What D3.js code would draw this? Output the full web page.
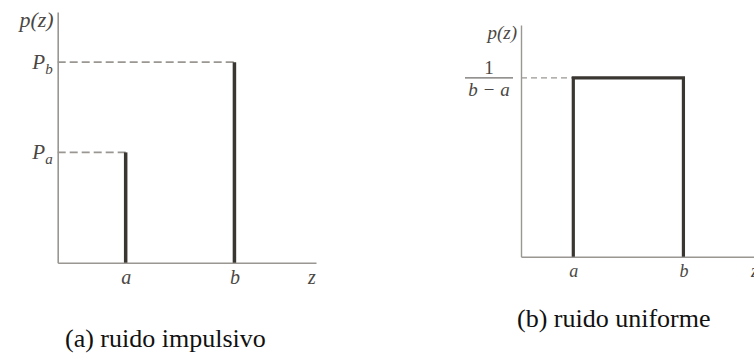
<!DOCTYPE html>
<html>
<head>
<meta charset="utf-8">
<script src="https://cdn.jsdelivr.net/npm/d3@7"></script>
<style>
  html, body { margin: 0; padding: 0; background: #fff; }
  svg { display: block; }
</style>
</head>
<body>
<svg id="chart" width="754" height="356"></svg>
<script>
// Impulse (salt-and-pepper) noise: two spikes at z = a and z = b
const impulseLabels = ["a", "b"];
const impulseZ = [2.5, 6.5];
const impulseP = [0.55, 1.0];
const impulseTickLabels = [["P", "a"], ["P", "b"]];

// Uniform noise: constant density 1/(b - a) between a and b
const uniformLabels = ["a", "b"];
const uniformZ = [1.9, 5.9];
const uniformHeight = [1 / (uniformZ[1] - uniformZ[0])];

const captions = ["(a) ruido impulsivo", "(b) ruido uniforme"];

const SERIF = "'Liberation Serif'";

const svg = d3.select("#chart");
const axisColor = "#9a9692";
const markColor = "#3a3632";
const labelColor = "#4a4744";

function math(sel, size) {
  return sel.attr("font-family", null).style("font-family", SERIF).style("font-style", "italic")
    .style("font-size", size + "px").attr("fill", labelColor);
}

// ---------- Panel (a): impulse ----------
const xA = d3.scaleLinear().domain([0, 9.5]).range([57.7, 316]);
const yA = d3.scaleLinear().domain([0, 1.25]).range([262.7, 12]);

const gA = svg.append("g");

const axBA = gA.append("g")
  .attr("transform", `translate(0,${yA(0)})`)
  .call(d3.axisBottom(xA).tickValues(impulseZ).tickSize(0).tickSizeOuter(0)
    .tickFormat((d, i) => impulseLabels[i]));
axBA.attr("font-family", null);
axBA.select(".domain").attr("stroke", axisColor).attr("stroke-width", 1.6);
math(axBA.selectAll(".tick text"), 20).attr("dy", 0).attr("y", 21);
math(axBA.append("text"), 20).attr("x", xA(9.35)).attr("y", 21)
  .attr("text-anchor", "middle").text("z");

const axLA = gA.append("g")
  .attr("transform", `translate(${xA(0)},0)`)
  .call(d3.axisLeft(yA).tickValues(impulseP).tickSize(0).tickSizeOuter(0).tickFormat(""));
axLA.attr("font-family", null);
axLA.select(".domain").attr("stroke", axisColor).attr("stroke-width", 1.6);
axLA.selectAll(".tick").each(function (d, i) {
  const t = math(d3.select(this).select("text"), 21)
    .attr("x", -5).attr("dy", "0.3em").attr("text-anchor", "end");
  t.append("tspan").text(impulseTickLabels[i][0]);
  t.append("tspan").style("font-size", "15px").attr("dy", "0.35em").text(impulseTickLabels[i][1]);
});
math(gA.append("text"), 22)
  .attr("x", xA(0) - 4).attr("y", yA(1.25) + 15).attr("text-anchor", "end").text("p(z)");

// dashed guides from the axis to each spike top
gA.selectAll("line.guide").data(impulseZ).join("line")
  .attr("class", "guide")
  .attr("x1", xA(0)).attr("x2", d => xA(d))
  .attr("y1", (d, i) => yA(impulseP[i])).attr("y2", (d, i) => yA(impulseP[i]))
  .attr("stroke", axisColor).attr("stroke-width", 1.6).attr("stroke-dasharray", "8,4");

// the spikes
gA.selectAll("line.spike").data(impulseZ).join("line")
  .attr("class", "spike")
  .attr("x1", d => xA(d)).attr("x2", d => xA(d))
  .attr("y1", yA(0)).attr("y2", (d, i) => yA(impulseP[i]))
  .attr("stroke", markColor).attr("stroke-width", 3.5);

// ---------- Panel (b): uniform ----------
const xB = d3.scaleLinear().domain([0, 8.5]).range([521, 755]);
const yB = d3.scaleLinear().domain([0, 0.324]).range([256.7, 25]);

const gB = svg.append("g");

const axBB = gB.append("g")
  .attr("transform", `translate(0,${yB(0)})`)
  .call(d3.axisBottom(xB).tickValues(uniformZ).tickSize(0).tickSizeOuter(0)
    .tickFormat((d, i) => uniformLabels[i]));
axBB.attr("font-family", null);
axBB.select(".domain").attr("stroke", axisColor).attr("stroke-width", 1.4);
math(axBB.selectAll(".tick text"), 18).attr("dy", 0).attr("y", 20);
math(axBB.append("text"), 18).attr("x", 751).attr("y", 20)
  .attr("text-anchor", "start").text("z");

const axLB = gB.append("g")
  .attr("transform", `translate(${xB(0)},0)`)
  .call(d3.axisLeft(yB).tickValues(uniformHeight).tickSize(0).tickSizeOuter(0).tickFormat(""));
axLB.select(".domain").attr("stroke", axisColor).attr("stroke-width", 1.4);

// fraction tick label 1 / (b - a)
const fracX = xB(0) - 32;
const fracY = yB(uniformHeight[0]);
math(gB.append("text"), 19).style("font-style", "normal")
  .attr("x", fracX).attr("y", fracY - 4).attr("text-anchor", "middle").text("1");
gB.append("line").attr("x1", fracX - 24).attr("x2", fracX + 24)
  .attr("y1", fracY).attr("y2", fracY).attr("stroke", labelColor).attr("stroke-width", 1);
math(gB.append("text"), 19)
  .attr("x", fracX).attr("y", fracY + 18).attr("text-anchor", "middle").text("b \u2212 a");

math(gB.append("text"), 19)
  .attr("x", xB(0) - 4).attr("y", yB(0.324) + 14).attr("text-anchor", "end").text("p(z)");

// dashed guide to the top of the box
gB.append("line")
  .attr("x1", xB(0)).attr("x2", xB(uniformZ[0]))
  .attr("y1", yB(uniformHeight[0])).attr("y2", yB(uniformHeight[0]))
  .attr("stroke", axisColor).attr("stroke-width", 1.3).attr("stroke-dasharray", "6,4");

// the uniform density box
const boxLine = d3.line().x(d => xB(d[0])).y(d => yB(d[1]));
gB.append("path")
  .datum([[uniformZ[0], 0], [uniformZ[0], uniformHeight[0]],
          [uniformZ[1], uniformHeight[0]], [uniformZ[1], 0]])
  .attr("d", boxLine)
  .attr("fill", "none").attr("stroke", markColor).attr("stroke-width", 3.2)
  .attr("stroke-linejoin", "miter");

// ---------- captions ----------
svg.selectAll("text.caption").data(captions).join("text")
  .attr("class", "caption")
  .style("font-family", SERIF).style("font-size", "26px").attr("fill", "#111")
  .attr("x", (d, i) => [65, 517][i]).attr("y", (d, i) => [347, 327][i])
  .text(d => d);
</script>
</body>
</html>
